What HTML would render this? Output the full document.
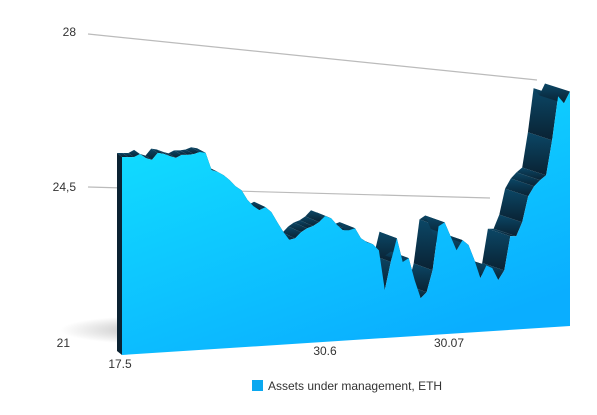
<!DOCTYPE html>
<html><head><meta charset="utf-8"><style>
body{margin:0;background:#fff;font-family:"Liberation Sans",sans-serif}
svg{display:block}
</style></head><body>
<svg id="chart" width="597" height="415" viewBox="0 0 597 415">
<defs>
<linearGradient id="front" x1="0" y1="0" x2="0.6" y2="1"><stop offset="0" stop-color="#12e4ff"/><stop offset="1" stop-color="#0aaeff"/></linearGradient>
<linearGradient id="dark" x1="0" y1="0" x2="0" y2="1"><stop offset="0" stop-color="#0b4766"/><stop offset="1" stop-color="#0a2233"/></linearGradient>
<radialGradient id="shadow" cx="0.5" cy="0.5" r="0.5"><stop offset="0" stop-color="#000" stop-opacity="0.25"/><stop offset="1" stop-color="#000" stop-opacity="0"/></radialGradient>
</defs>
<ellipse cx="150" cy="330" rx="90" ry="14" fill="url(#shadow)"/>
<line x1="88" y1="34" x2="537" y2="80" stroke="#bbb" stroke-width="1.2"/>
<line x1="88" y1="187" x2="490" y2="198" stroke="#bbb" stroke-width="1.2"/>
<text x="76" y="36" font-size="12" text-anchor="end" fill="#333">28</text>
<text x="76" y="191" font-size="12" text-anchor="end" fill="#333">24,5</text>
<text x="70" y="347" font-size="12" text-anchor="end" fill="#333">21</text>
<g id="series"></g>
<text x="120" y="368" font-size="12" text-anchor="middle" fill="#333">17.5</text>
<text x="325" y="355" font-size="12" text-anchor="middle" fill="#333">30.6</text>
<text x="449" y="347" font-size="12" text-anchor="middle" fill="#333">30.07</text>
<rect x="252" y="380" width="11" height="11" fill="#0aa8f0"/>
<text x="268" y="390" font-size="12" fill="#333">Assets under management, ETH</text>
</svg>
<script>
const values = [25.5,25.49,25.48,25.54,25.44,25.39,25.54,25.51,25.45,25.4,25.46,25.45,25.46,25.5,25.47,25.07,25.02,24.94,24.82,24.67,24.57,24.34,24.19,24.09,24.15,24.03,23.79,23.56,23.37,23.4,23.53,23.61,23.65,23.73,23.86,23.8,23.64,23.51,23.5,23.54,23.3,23.2,23.15,23.0,22.09,22.72,23.25,22.7,22.78,22.27,21.85,21.98,22.47,23.46,23.54,23.22,22.89,23.11,22.99,22.64,22.22,22.5,22.43,22.15,22.36,23.13,23.12,23.43,24.01,24.23,24.36,24.46,25.25,26.24,26.07,26.33];
const yMin = 21;
const NS='http://www.w3.org/2000/svg';
const g=document.getElementById('series');
const x0=122,x1=570;
function xAt(i){return x0+(x1-x0)*i/(values.length-1);}
function tAt(x){return (x-x0)/(x1-x0);}
function base(x){return 355-29*tAt(x);}
function yAt(x,v){return base(x)-(v-yMin)*44;}
function backOff(x){const t=tAt(x);return [-5-20*t,-4-4*t];}
const F=values.map((v,i)=>{const x=xAt(i);return [x,yAt(x,v)];});
const B=F.map(p=>{const o=backOff(p[0]);return [p[0]+o[0],p[1]+o[1]];});
function poly(pts,fill,name){const p=document.createElementNS(NS,'polygon');p.setAttribute('points',pts.map(q=>q[0].toFixed(1)+','+q[1].toFixed(1)).join(' '));p.setAttribute('fill',fill);


g.appendChild(p);}
// left side face
const bl=[x0,base(x0)],o0=backOff(x0);
poly([bl,F[0],B[0],[bl[0]+o0[0],bl[1]+o0[1]]],'#0a2232','left-side-face');
for(let i=0;i<F.length-1;i++){poly([F[i],F[i+1],B[i+1],B[i]],'url(#dark)','top-surface-segment');}
poly([[x0,base(x0)],...F,[x1,base(x1)]],'url(#front)','front-face');
</script>
</body></html>
